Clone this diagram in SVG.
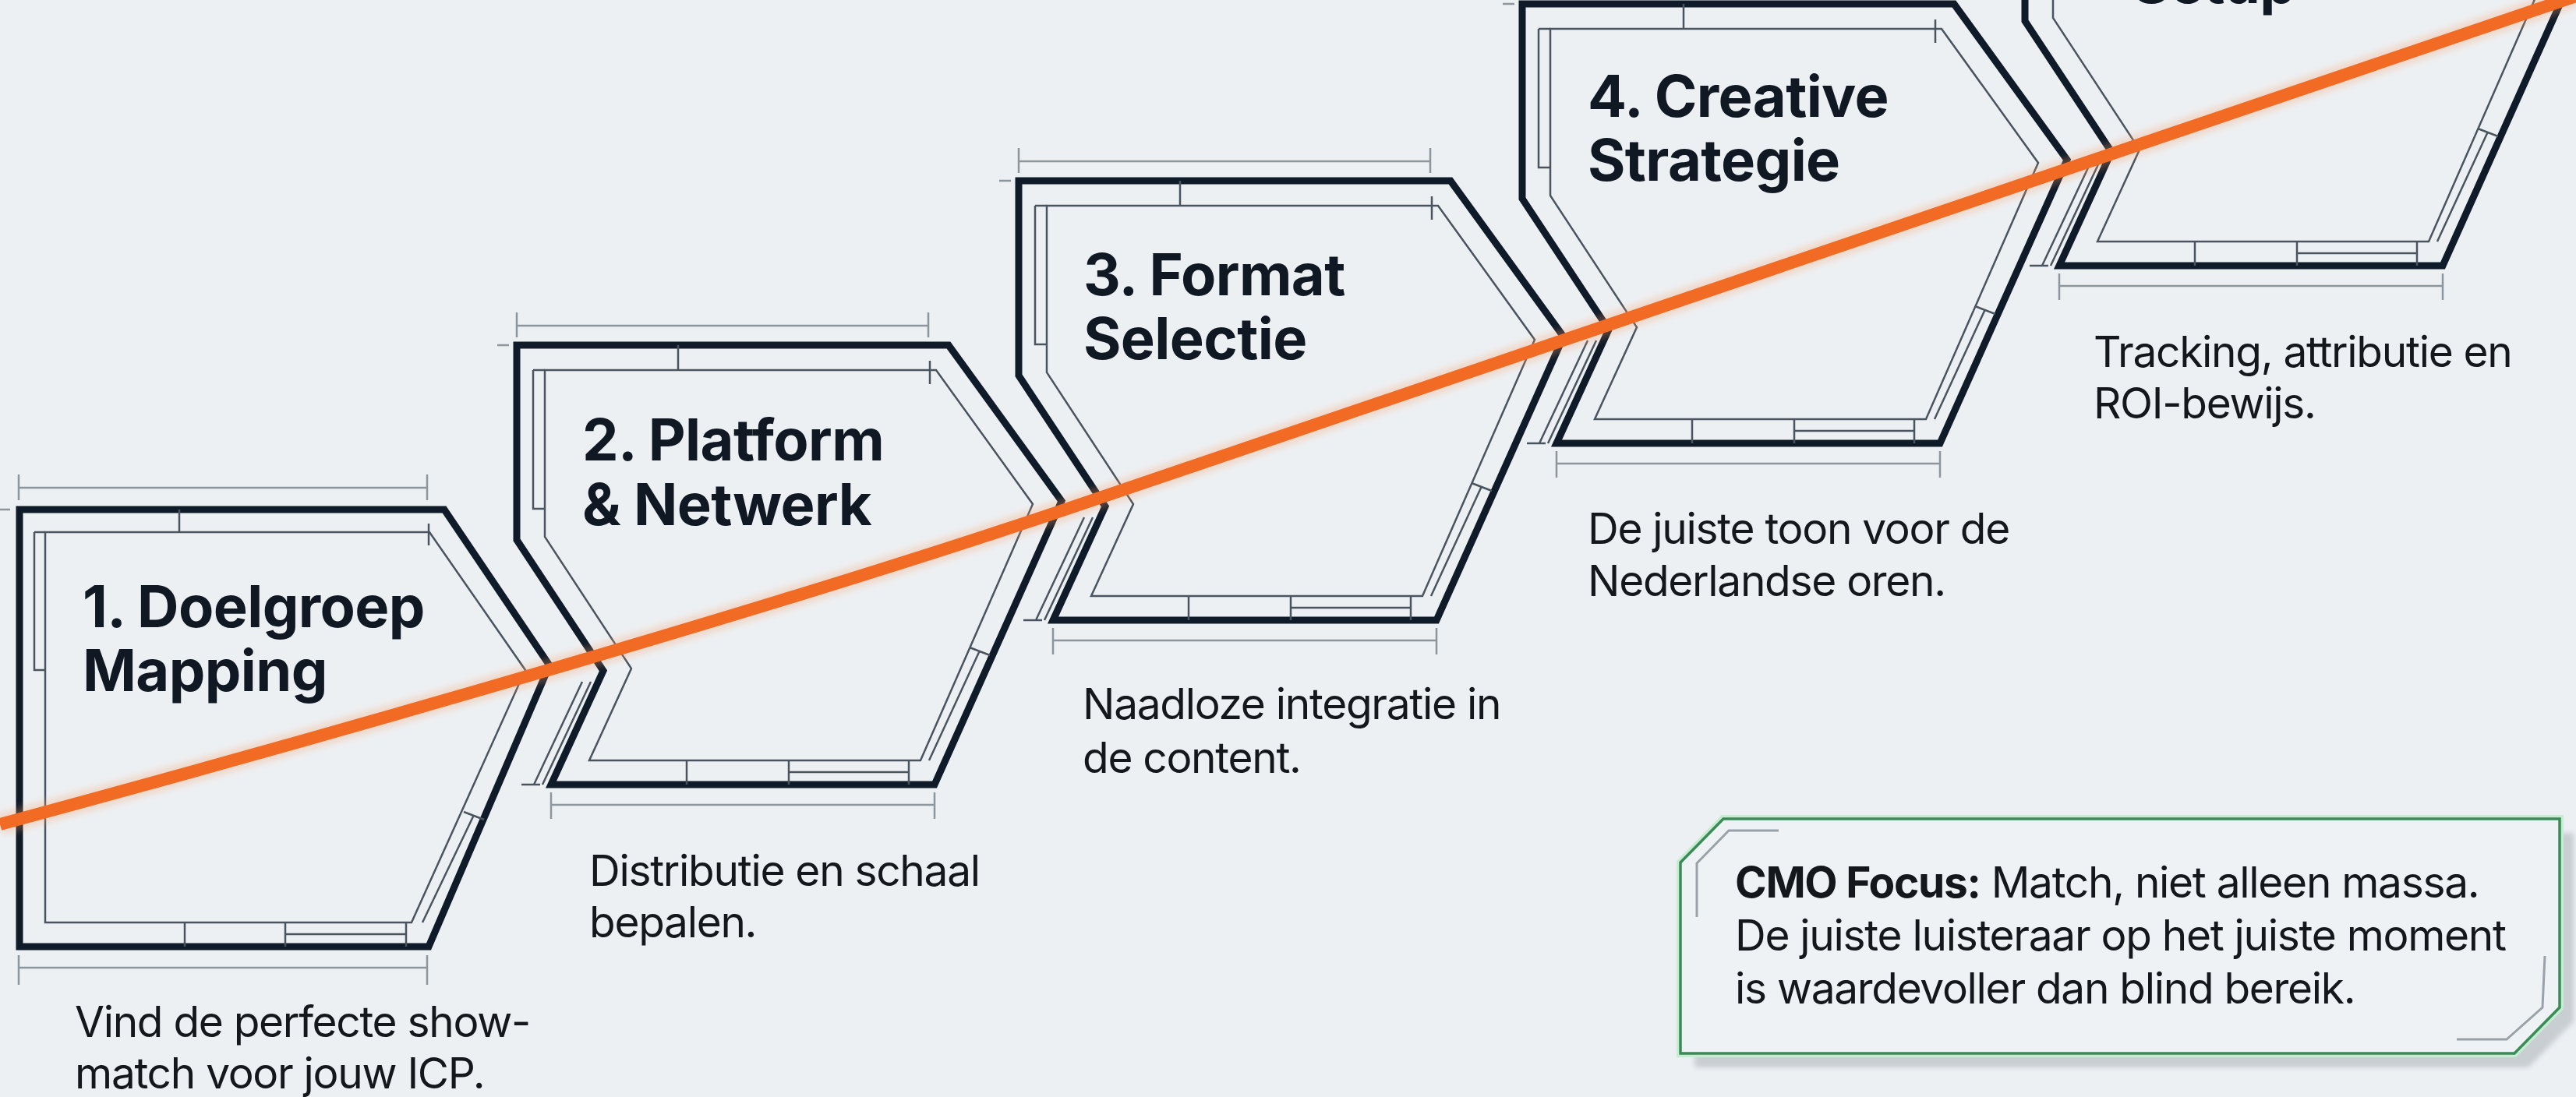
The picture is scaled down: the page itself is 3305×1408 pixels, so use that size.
<svg xmlns="http://www.w3.org/2000/svg" xmlns:xlink="http://www.w3.org/1999/xlink" width="3305" height="1408" viewBox="0 0 3305 1408">
  <style>
    .ol { fill: none; stroke: #0f1b29; stroke-width: 9; stroke-linejoin: miter; }
    .in { fill: none; stroke: #4a545f; stroke-width: 2.5; }
    .dim { fill: none; stroke: #8d959d; stroke-width: 2.5; }
    .title { font-family: Inter, "Liberation Sans", sans-serif; font-weight: 700; font-size: 74px; fill: #101823; letter-spacing: -0.6px; }
    .body { font-family: Inter, "Liberation Sans", sans-serif; font-weight: 400; font-size: 55px; fill: #14181d; letter-spacing: -1.3px; }
    .orange { fill: none; stroke: #f26b24; stroke-width: 16; stroke-linecap: butt; }
    .glow { fill: none; stroke: #f7a06a; stroke-width: 28; opacity: 0.3; }
  </style>
  <defs>
    <filter id="soft" x="-5%" y="-5%" width="110%" height="110%">
      <feGaussianBlur stdDeviation="4"/>
    </filter>
    <filter id="shadowBlur" x="-5%" y="-10%" width="110%" height="120%">
      <feGaussianBlur stdDeviation="3"/>
    </filter>
    <!-- chevron plate with notch on the left (steps 2-5) -->
    <path id="plate" d="M0,0 H554 L699,200 L536,564 H44 L111,418 L0,250 Z"/>
    <path id="plateInner" d="M36,32 H538 L662,204 L518,533 H93 L147,415 L36,246 Z"/>
    <g id="plateDetail">
      <path class="in" d="M21,32 V210 H36 M21,32 H36 M207,0 V32 M530,20 V50 M218,533 V564 M349,533 V564 M503,533 V564 M349,548 H503 M594,392 L529,533 M581,388 L607,398"/>
      <path class="in" d="M84,432 L22,564 M95,432 L33,564 M6,564 H30"/>
      <path class="dim" d="M-25,0 H-10 M0,-25 H528 M0,-42 V-10 M528,-42 V-10 M44,590 H536 M44,574 V608 M536,574 V608"/>
    </g>
  </defs>

  <rect x="0" y="0" width="3305" height="1408" fill="#edf0f3"/>

  <!-- step 1: flat left side -->
  <g id="step1" transform="translate(25,654)">
    <path class="ol" d="M0,0 H545 L680,200 L525,561 H0 Z"/>
    <path class="in" d="M33,29 H526 L649,206 L503,530 H33 Z"/>
    <path class="in" d="M19,29 V206 H33 M19,29 H33 M205,0 V29 M525,18 V46 M212,530 V561 M341,530 V561 M496,530 V561 M341,545 H496 M583,392 L517,530 M570,388 L596,398"/>
    <path class="dim" d="M-25,0 H-12 M-1,-28 H523 M-1,-45 V-12 M523,-45 V-12 M-1,588 H523 M-1,572 V610 M523,572 V610"/>
    <text class="title" x="81" y="151">1. Doelgroep</text>
    <text class="title" x="81" y="233">Mapping</text>
    <text class="body" x="71" y="677">Vind de perfecte show-</text>
    <text class="body" x="71" y="743">match voor jouw ICP.</text>
  </g>

  <!-- step 2 -->
  <g id="step2" transform="translate(663,443)">
    <use href="#plate" xlink:href="#plate" class="ol"/>
    <use href="#plateInner" xlink:href="#plateInner" class="in"/>
    <use href="#plateDetail" xlink:href="#plateDetail"/>
    <text class="title" x="84" y="148">2. Platform</text>
    <text class="title" x="84" y="231">&amp; Netwerk</text>
    <text class="body" x="93" y="694">Distributie en schaal</text>
    <text class="body" x="93" y="760">bepalen.</text>
  </g>

  <!-- step 3 -->
  <g id="step3" transform="translate(1307,232)">
    <use href="#plate" xlink:href="#plate" class="ol"/>
    <use href="#plateInner" xlink:href="#plateInner" class="in"/>
    <use href="#plateDetail" xlink:href="#plateDetail"/>
    <text class="title" x="83" y="147">3. Format</text>
    <text class="title" x="83" y="229">Selectie</text>
    <text class="body" x="82" y="691">Naadloze integratie in</text>
    <text class="body" x="82" y="760">de content.</text>
  </g>

  <!-- step 4 -->
  <g id="step4" transform="translate(1953,5)">
    <use href="#plate" xlink:href="#plate" class="ol"/>
    <use href="#plateInner" xlink:href="#plateInner" class="in"/>
    <use href="#plateDetail" xlink:href="#plateDetail"/>
    <text class="title" x="84" y="145">4. Creative</text>
    <text class="title" x="84" y="227">Strategie</text>
    <text class="body" x="84" y="693">De juiste toon voor de</text>
    <text class="body" x="84" y="760">Nederlandse oren.</text>
  </g>

  <!-- step 5 (runs off the top edge) -->
  <g id="step5" transform="translate(2598,-223)">
    <use href="#plate" xlink:href="#plate" class="ol"/>
    <use href="#plateInner" xlink:href="#plateInner" class="in"/>
    <use href="#plateDetail" xlink:href="#plateDetail"/>
    <text class="title" x="138" y="227">Setup</text>
    <text class="body" x="88" y="694">Tracking, attributie en</text>
    <text class="body" x="88" y="760">ROI-bewijs.</text>
  </g>

  <!-- rising growth line across the steps -->
  <g id="connectors">
    <path class="glow" filter="url(#soft)" d="M0,1058 C400,950 1000,779 1390,646 L3305,-5"/>
    <path class="orange" d="M0,1058 C400,950 1000,779 1390,646 L3305,-5"/>
  </g>

  <!-- CMO callout -->
  <g id="cmo-focus">
    <path d="M2229,1069 H3302 V1311 L3244,1370 H2174 V1125 Z" fill="#c9ced3" filter="url(#shadowBlur)"/>
    <path d="M2211,1051 H3284 V1293 L3226,1352 H2156 V1107 Z" fill="none" stroke="#c6ecd2" stroke-width="10"/>
    <path d="M2211,1051 H3284 V1293 L3226,1352 H2156 V1107 Z" fill="#eff2f4" stroke="#3b8b57" stroke-width="3.5"/>
    <path d="M2282,1066 H2218 L2177,1108 V1177 M3265,1227 L3262,1293 L3216,1334 H3152" fill="none" stroke="#9aa2a9" stroke-width="3"/>
    <text class="body" x="2226" y="1152"><tspan font-weight="700">CMO Focus:</tspan> Match, niet alleen massa.</text>
    <text class="body" x="2226" y="1220">De juiste luisteraar op het juiste moment</text>
    <text class="body" x="2226" y="1288">is waardevoller dan blind bereik.</text>
  </g>
</svg>
